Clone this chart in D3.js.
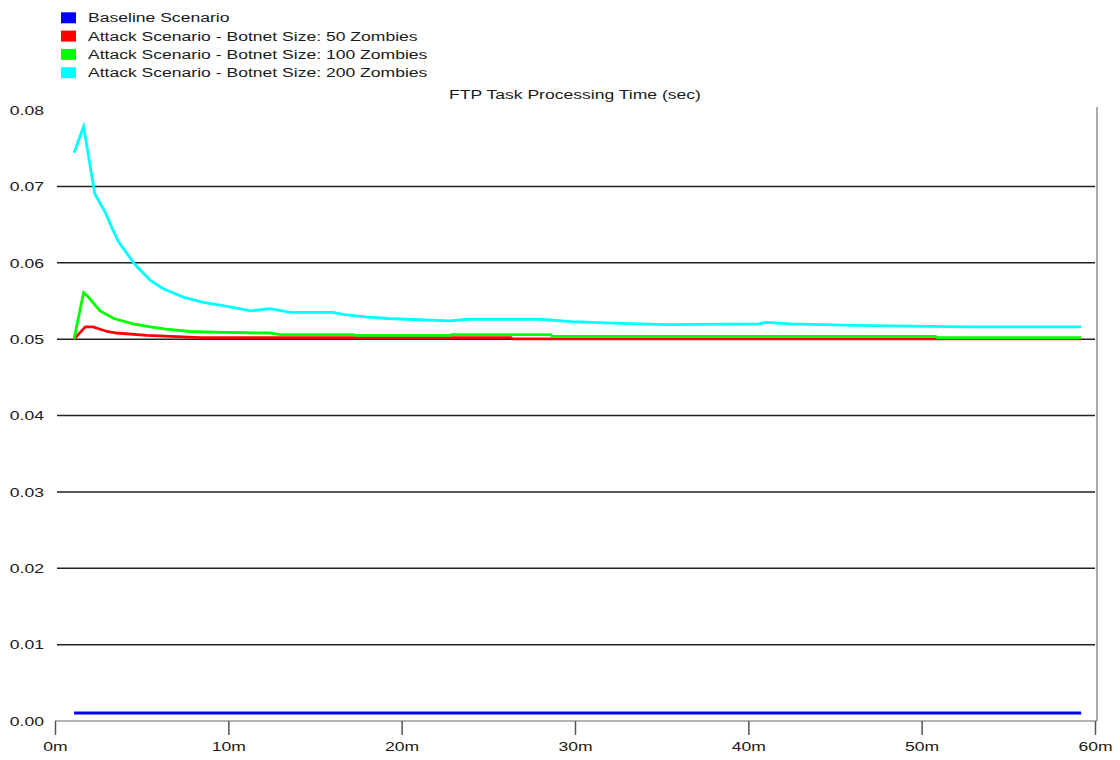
<!DOCTYPE html>
<html>
<head>
<meta charset="utf-8">
<script src="https://cdn.jsdelivr.net/npm/d3@7"></script>
<style>
  body { margin: 0; background: #fff; }
  text { font-family: "Liberation Sans", Arial, sans-serif; font-size: 13.3px; fill: #1a1a1a; }
</style>
</head>
<body>
<div class="canvas"></div>
<script>
// 캔버스 크기
const width = 1120;
const height = 760;
const stretch = 1.32; // 원본 글자가 가로로 늘어나 보여서

// 데이터
const seriesNames = [
  "Baseline Scenario",
  "Attack Scenario - Botnet Size: 50 Zombies",
  "Attack Scenario - Botnet Size: 100 Zombies",
  "Attack Scenario - Botnet Size: 200 Zombies"
];
const seriesColors = ["#0000ff", "#ff0000", "#00ff00", "#00ffff"];

const baselineTime = [1.1, 59.2];
const baselineValue = [0.00105, 0.00105];

const zombies50Time = [1.1, 1.75, 2.2, 3.0, 3.55, 5.3, 8.4, 26.3, 26.4, 59.2];
const zombies50Value = [0.0500, 0.0516, 0.0516, 0.0510, 0.0508, 0.0505, 0.0502, 0.0502, 0.05003, 0.05003];

const zombies100Time = [1.1, 1.65, 1.85, 2.6, 3.4, 4.5, 5.5, 6.4, 7.8, 9.3, 12.4, 13.0, 17.2, 17.3, 22.8, 22.9, 28.6, 28.7, 50.8, 50.9, 59.2];
const zombies100Value = [0.0500, 0.0561, 0.0557, 0.0537, 0.0527, 0.0520, 0.0516, 0.0513, 0.0510, 0.0509, 0.0508, 0.0506, 0.0506, 0.0505, 0.0505, 0.0506, 0.0506, 0.05037, 0.05037, 0.0502, 0.0502];

const zombies200Time = [1.1, 1.65, 2.3, 2.9, 3.3, 3.65, 4.6, 5.5, 6.25, 7.4, 8.55, 9.7, 11.3, 12.4, 13.6, 16.0, 16.7, 17.9, 19.2, 20.3, 22.8, 23.8, 28.0, 29.8, 32.2, 35.3, 40.6, 41.0, 42.4, 46.1, 52.7, 59.2];
const zombies200Value = [0.0744, 0.0778, 0.0690, 0.0666, 0.0645, 0.0628, 0.0598, 0.0577, 0.0566, 0.0555, 0.0548, 0.0544, 0.0537, 0.0540, 0.0535, 0.0535, 0.0532, 0.0529, 0.0527, 0.0526, 0.0524, 0.0526, 0.0526, 0.0523, 0.0521, 0.0519, 0.0520, 0.0522, 0.0520, 0.0518, 0.0516, 0.0516];

const xTicks = [0, 10, 20, 30, 40, 50, 60];
const yTicks = [0, 0.01, 0.02, 0.03, 0.04, 0.05, 0.06, 0.07, 0.08];
const chartTitle = "FTP Task Processing Time (sec)";

const allTimes = [baselineTime, zombies50Time, zombies100Time, zombies200Time];
const allValues = [baselineValue, zombies50Value, zombies100Value, zombies200Value];

const x = d3.scaleLinear().domain([0, 60]).range([55, 1095]);
const y = d3.scaleLinear().domain([0, 0.08]).range([721, 110]);

const svg = d3.select(".canvas").append("svg")
  .attr("width", width)
  .attr("height", height);

// 그리드 선
svg.append("g")
  .selectAll("line")
  .data(yTicks.filter(d => d > 0 && d < 0.08))
  .join("line")
    .attr("x1", 57)
    .attr("x2", 1095)
    .attr("y1", d => y(d))
    .attr("y2", d => y(d))
    .attr("stroke", "#222")
    .attr("stroke-width", 1.5);

// 오른쪽 테두리
svg.append("line")
  .attr("x1", 1097).attr("x2", 1097)
  .attr("y1", 107).attr("y2", y(0))
  .attr("stroke", "#aaa")
  .attr("stroke-width", 2);

// X 축
const gx = svg.append("g")
  .attr("transform", `translate(0,${y(0)})`)
  .call(d3.axisBottom(x).tickValues(xTicks).tickFormat(d => d + "m").tickSize(14).tickSizeOuter(0).tickPadding(7));
gx.select(".domain").attr("stroke", "#999").attr("stroke-width", 1.5).attr("d", `M55,0H1097`);
gx.selectAll(".tick line").attr("stroke", "#555").attr("stroke-width", 1.5);
gx.selectAll("text").attr("transform", `scale(${stretch},1)`).style("font-size", "13.3px");

// Y 축
const gy = svg.append("g")
  .attr("transform", "translate(44,0)")
  .call(d3.axisLeft(y).tickValues(yTicks).tickFormat(d3.format(".2f")).tickSize(0).tickPadding(0));
gy.select(".domain").remove();
gy.selectAll("text").attr("transform", `scale(${stretch},1)`).style("font-size", "13.3px");

// 시리즈 선
const line = d3.line()
  .x(d => x(d[0]))
  .y(d => y(d[1]));

seriesNames.forEach((name, i) => {
  const pts = allTimes[i].map((t, j) => [t, allValues[i][j]]);
  svg.append("path")
    .datum(pts)
    .attr("fill", "none")
    .attr("stroke", seriesColors[i])
    .attr("stroke-width", 2.8)
    .attr("d", line);
});

// 제목
svg.append("text")
  .attr("transform", `translate(575,94) scale(${stretch},1)`)
  .attr("text-anchor", "middle")
  .attr("dy", "0.35em")
  .text(chartTitle);

// 범례
const legend = svg.selectAll(".legend")
  .data(seriesNames)
  .join("g")
    .attr("class", "legend")
    .attr("transform", (d, i) => `translate(61,${17.8 + i * 18.3})`);

legend.append("rect")
  .attr("y", -5.5)
  .attr("width", 15)
  .attr("height", 11)
  .attr("fill", (d, i) => seriesColors[i]);

legend.append("text")
  .attr("transform", `translate(27,0) scale(${stretch},1)`)
  .attr("dy", "0.35em")
  .text(d => d);
</script>
</body>
</html>
